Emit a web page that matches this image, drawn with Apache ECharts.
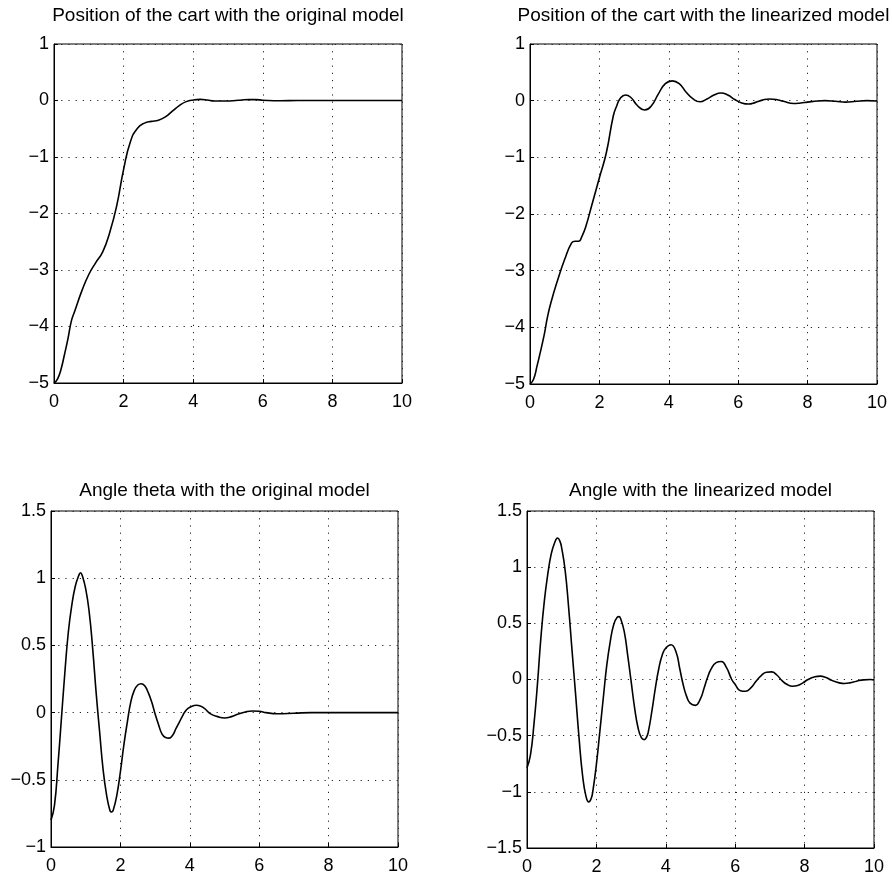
<!DOCTYPE html>
<html><head><meta charset="utf-8">
<script src="https://cdn.jsdelivr.net/npm/echarts@6/dist/echarts.min.js"></script>
<style>html,body{margin:0;padding:0;background:#fff}#c{width:892px;height:878px}</style>
</head><body><div id="c"></div>
<script>
// ---- titles / ticks ----
const titles = [
  'Position of the cart with the original model',
  'Position of the cart with the linearized model',
  'Angle theta with the original model',
  'Angle with the linearized model'
];
const xTicks = [0, 2, 4, 6, 8, 10];
const posYTicks = [-5, -4, -3, -2, -1, 0, 1];
const angOrigYTicks = [-1, -0.5, 0, 0.5, 1, 1.5];
const angLinYTicks = [-1.5, -1, -0.5, 0, 0.5, 1, 1.5];

// ---- series: position, original model ----
const posOrigT = [0,0.1,0.2,0.3,0.4,0.5,0.6,0.8,1.0,1.2,1.4,1.6,1.8,2.0,2.2,2.4,2.6,2.8,3.0,3.2,3.4,3.6,3.8,4.0,4.2,4.4,4.6,4.8,5.0,5.2,5.4,5.6,5.8,6.0,6.5,7,8,9,10];
const posOrigV = [-5,-4.93,-4.76,-4.5,-4.22,-3.9,-3.72,-3.37,-3.08,-2.87,-2.68,-2.34,-1.87,-1.22,-0.72,-0.49,-0.4,-0.37,-0.35,-0.29,-0.19,-0.09,-0.02,0.01,0.02,0.01,-0.01,-0.01,-0.01,0,0.01,0.015,0.015,0.005,-0.005,0,0,0,0];

// ---- series: position, linearized model ----
const posLinT = [0,0.1,0.2,0.4,0.5,0.6,0.8,1.0,1.2,1.3,1.4,1.5,1.6,1.8,2.0,2.2,2.4,2.5,2.6,2.75,2.9,3.1,3.3,3.5,3.7,3.9,4.1,4.3,4.5,4.7,4.9,5.1,5.3,5.5,5.7,5.9,6.1,6.3,6.5,6.7,6.9,7.1,7.3,7.6,7.8,8.0,8.3,8.5,8.8,9.1,9.4,9.7,10];
const posLinV = [-5,-4.92,-4.69,-4.16,-3.83,-3.57,-3.16,-2.8,-2.51,-2.48,-2.48,-2.39,-2.24,-1.8,-1.36,-0.92,-0.27,-0.09,0.04,0.1,0.06,-0.09,-0.165,-0.09,0.12,0.3,0.35,0.3,0.15,0.03,-0.02,0.03,0.1,0.135,0.1,0.02,-0.04,-0.06,-0.03,0.01,0.03,0.02,-0.01,-0.05,-0.04,-0.025,-0.005,0,-0.01,-0.025,-0.01,0,-0.005];

// ---- series: angle, original model ----
const angOrigT = [0,0.1,0.2,0.3,0.4,0.5,0.6,0.7,0.8,0.85,0.9,1.0,1.1,1.2,1.3,1.4,1.5,1.6,1.7,1.75,1.8,1.9,2.0,2.1,2.2,2.3,2.4,2.5,2.6,2.7,2.8,2.9,3.0,3.1,3.2,3.3,3.4,3.5,3.6,3.7,3.8,3.9,4.0,4.2,4.4,4.6,4.8,5.0,5.2,5.4,5.6,5.8,6.0,6.2,6.5,7.0,7.5,8,9,10];
const angOrigV = [-0.8,-0.69,-0.39,-0.045,0.3,0.6,0.8,0.94,1.02,1.04,1.02,0.92,0.75,0.48,0.15,-0.14,-0.42,-0.61,-0.73,-0.74,-0.72,-0.61,-0.44,-0.24,-0.07,0.08,0.165,0.205,0.215,0.2,0.15,0.08,-0.01,-0.09,-0.16,-0.185,-0.19,-0.17,-0.12,-0.07,-0.02,0.02,0.04,0.055,0.035,-0.01,-0.03,-0.04,-0.03,-0.01,0.005,0.012,0.01,0,-0.008,-0.005,0,0,0,0];

// ---- series: angle, linearized model ----
const angLinT = [0,0.1,0.2,0.3,0.4,0.5,0.6,0.7,0.8,0.88,0.95,1.0,1.1,1.2,1.3,1.4,1.5,1.6,1.7,1.78,1.85,1.9,2.0,2.1,2.2,2.3,2.4,2.5,2.6,2.65,2.7,2.8,2.9,3.0,3.1,3.2,3.3,3.38,3.45,3.5,3.6,3.7,3.8,3.9,4.0,4.15,4.3,4.4,4.5,4.6,4.7,4.85,5.0,5.1,5.2,5.3,5.45,5.6,5.75,5.9,6.0,6.15,6.3,6.45,6.6,6.75,6.9,7.05,7.2,7.35,7.5,7.65,7.8,7.95,8.1,8.3,8.45,8.6,8.8,9.0,9.15,9.3,9.5,9.7,9.9,10];
const angLinV = [-0.785,-0.67,-0.4,-0.045,0.37,0.7,0.94,1.12,1.22,1.26,1.23,1.17,0.97,0.64,0.25,-0.13,-0.52,-0.85,-1.04,-1.09,-1.06,-0.99,-0.755,-0.46,-0.16,0.13,0.34,0.49,0.555,0.56,0.54,0.43,0.22,-0.015,-0.25,-0.43,-0.52,-0.535,-0.51,-0.46,-0.28,-0.075,0.1,0.22,0.28,0.31,0.24,0.1,-0.045,-0.15,-0.21,-0.23,-0.17,-0.08,0.015,0.09,0.15,0.16,0.105,0,-0.045,-0.1,-0.105,-0.075,-0.015,0.035,0.065,0.068,0.04,-0.01,-0.045,-0.06,-0.053,-0.03,0,0.024,0.03,0.02,-0.01,-0.03,-0.035,-0.03,-0.015,-0.003,0,-0.005];

// ---- build ----
const panels = [
  {t: posOrigT, v: posOrigV, y: posYTicks, box: {left: 54, top: 44, width: 348, height: 339}, ty: 16},
  {t: posLinT, v: posLinV, y: posYTicks, box: {left: 530, top: 44, width: 347, height: 340}, ty: 16},
  {t: angOrigT, v: angOrigV, y: angOrigYTicks, box: {left: 51, top: 511, width: 347, height: 336}, ty: 491},
  {t: angLinT, v: angLinV, y: angLinYTicks, box: {left: 527, top: 511, width: 347, height: 337}, ty: 491}
];
const FONT = '"Liberation Sans", Arial, sans-serif';
const TFONT = '"Liberation Sans Narrow", "Liberation Sans", Arial, sans-serif';
const fmt = v => String(v).replace('-', '\u2212');
const dotted = {color: '#222', width: 1, type: [1.2, 6]};

const grid = [], xAxis = [], yAxis = [], series = [];
panels.forEach((p, i) => {
  grid.push(Object.assign({show: true, borderColor: '#000', borderWidth: 1, backgroundColor: '#fff'}, p.box));
  xAxis.push({
    type: 'value', gridIndex: i, min: xTicks[0], max: xTicks[xTicks.length - 1], interval: xTicks[1] - xTicks[0],
    axisLine: {show: true, onZero: false, lineStyle: {color: '#000', width: 1}},
    axisTick: {show: true, inside: true, length: 4, lineStyle: {color: '#000'}},
    axisLabel: {color: '#000', fontSize: 18, fontFamily: FONT, margin: 10, formatter: fmt},
    splitLine: {show: true, lineStyle: dotted}
  });
  const ys = p.y;
  yAxis.push({
    type: 'value', gridIndex: i, min: ys[0], max: ys[ys.length - 1], interval: ys[1] - ys[0],
    axisLine: {show: true, onZero: false, lineStyle: {color: '#000', width: 1}},
    axisTick: {show: true, inside: true, length: 4, lineStyle: {color: '#000'}},
    axisLabel: {color: '#000', fontSize: 18, fontFamily: FONT, margin: 5, padding: [8, 0, 0, 0], formatter: fmt},
    splitLine: {show: true, lineStyle: dotted}
  });
  series.push({
    type: 'line', xAxisIndex: i, yAxisIndex: i, showSymbol: false, smooth: 0.5,
    lineStyle: {color: '#000', width: 1.6}, animation: false,
    data: p.t.map((t, k) => [t, p.v[k]])
  });
});

const chart = echarts.init(document.getElementById('c'), null, {renderer: 'canvas'});
chart.setOption({
  backgroundColor: '#fff', animation: false, grid, xAxis, yAxis, series,
  graphic: panels.map((p, i) => ({
    type: 'text', x: p.box.left + p.box.width / 2, y: p.ty,
    style: {text: titles[i], fill: '#000', font: '19px ' + TFONT, align: 'center', verticalAlign: 'middle'}
  }))
});
</script></body></html>
